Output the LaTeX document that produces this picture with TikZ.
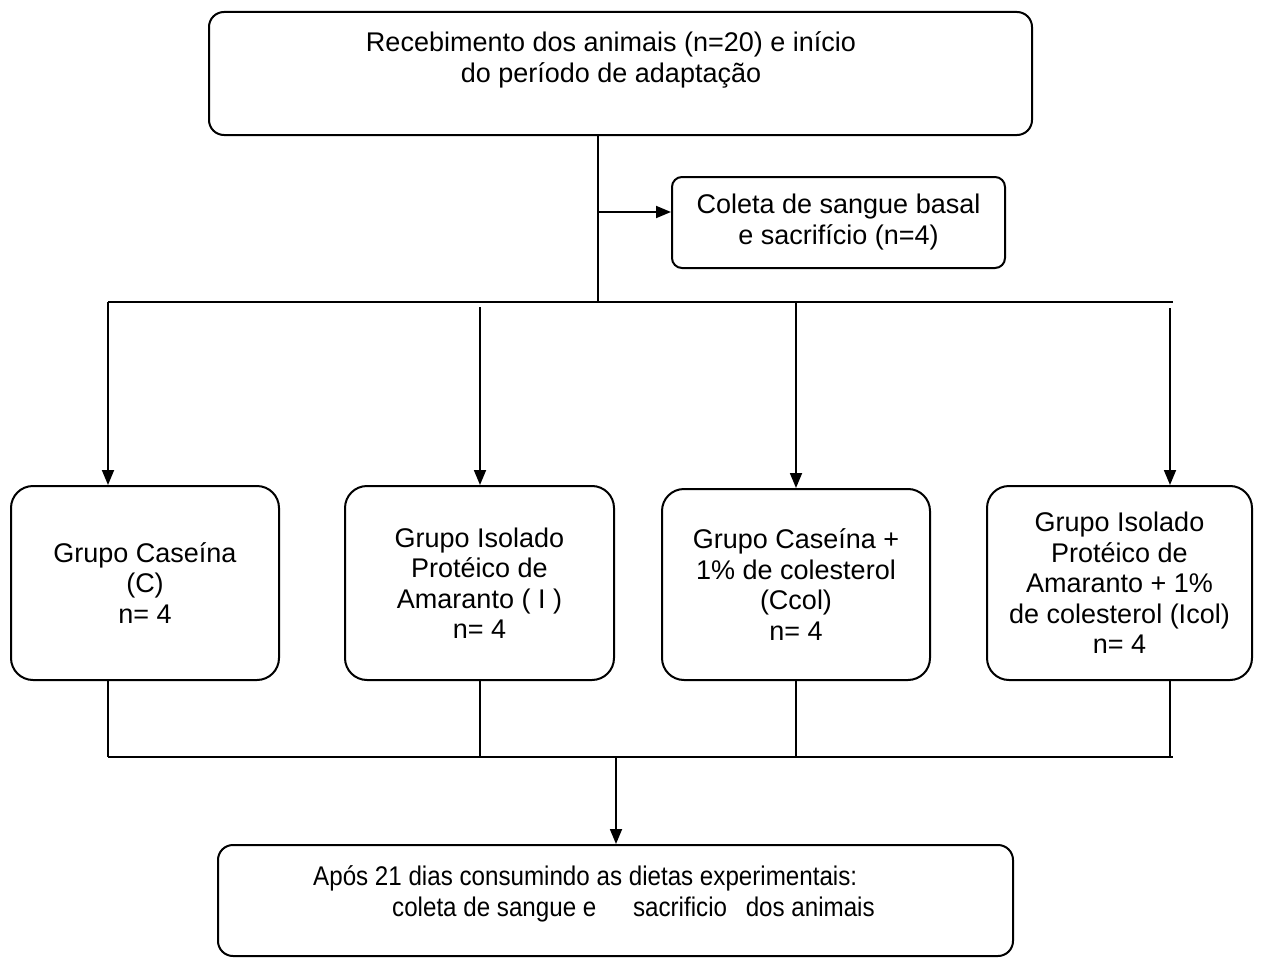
\documentclass[tikz,border=0pt]{standalone}
\usepackage{fontspec}
\setmainfont{Liberation Sans}
\newfontfamily\narrowfont[FakeStretch=0.895]{Liberation Sans}
\usetikzlibrary{arrows.meta}
\tikzset{
  box/.style={draw, line width=2pt, rounded corners=#1, inner sep=0pt, align=center},
  box/.default=22pt,
  txt/.style={align=center, inner sep=0pt, font=\fontsize{27}{30.5}\selectfont},
  conn/.style={line width=1.6pt},
  arr/.style={line width=1.8pt, -{Triangle[length=15pt,width=12pt]}}
}
\begin{document}
\begin{tikzpicture}[x=1pt,y=-1pt]
\useasboundingbox (0,0) rectangle (1262,958);
% boxes
\node[box=15pt, minimum width=823pt, minimum height=123pt] (top) at (620.5,73.5) {};
\node[txt, font=\fontsize{27}{31}\selectfont] (toptxt) at (611,60) {Recebimento dos animais (n=20) e início\\do período de adaptação};
\node[box=10pt, minimum width=333pt, minimum height=91pt, txt, font=\fontsize{27}{31}\selectfont] (col) at (838.5,222.5) {Coleta de sangue basal\\e sacrifício (n=4)};
\node[box, minimum width=268pt, minimum height=194pt, txt] (g1) at (145,583) {Grupo Caseína\\(C)\\n= 4};
\node[box, minimum width=269pt, minimum height=194pt, txt] (g2) at (479.5,583) {Grupo Isolado\\Protéico de\\Amaranto ( I )\\n= 4};
\node[box, minimum width=268pt, minimum height=191pt, txt] (g3) at (796,584.5) {Grupo Caseína +\\1\% de colesterol\\(Ccol)\\n= 4};
\node[box, minimum width=265pt, minimum height=194pt, txt] (g4) at (1119.5,583) {Grupo Isolado\\Protéico de\\Amaranto + 1\%\\de colesterol (Icol)\\n= 4};
\node[box=15pt, minimum width=795pt, minimum height=111pt] (bot) at (615.5,900.5) {};
\node[txt, align=left, anchor=west, font=\narrowfont\fontsize{27}{30.5}\selectfont] (bottxt) at (313,894) {Após 21 dias consumindo as dietas experimentais:\\\hspace*{79pt}coleta de sangue e\hspace{30pt} sacrificio\hspace{12pt} dos animais};
% top part
\coordinate (j0) at (598,302);
\coordinate (ja) at (598,212);
\draw[conn] (top.south -| j0) -- (j0);
\draw[arr] (ja) -- (ja -| col.west);
\coordinate (hl) at (108,302);
\coordinate (hr) at (1173,302);
\draw[conn] (hl) -- (hr);
\coordinate (a1) at (108,302);
\coordinate (a2) at (480,307);
\coordinate (a3) at (796,302);
\coordinate (a4) at (1170,308);
\draw[arr] (a1) -- (a1 |- g1.north);
\draw[arr] (a2) -- (a2 |- g2.north);
\draw[arr] (a3) -- (a3 |- g3.north);
\draw[arr] (a4) -- (a4 |- g4.north);
% bottom bus
\coordinate (b1) at (108,757);
\coordinate (b2) at (480,757);
\coordinate (b3) at (796,757);
\coordinate (b4) at (1170,757);
\coordinate (br) at (1173,757);
\draw[conn] (g1.south -| b1) -- (b1);
\draw[conn] (g2.south -| b2) -- (b2);
\draw[conn] (g3.south -| b3) -- (b3);
\draw[conn] (g4.south -| b4) -- (b4);
\draw[conn] (b1) -- (br);
\coordinate (bm) at (616,757);
\draw[arr] (bm) -- (bm |- bot.north);
\end{tikzpicture}
\end{document}
